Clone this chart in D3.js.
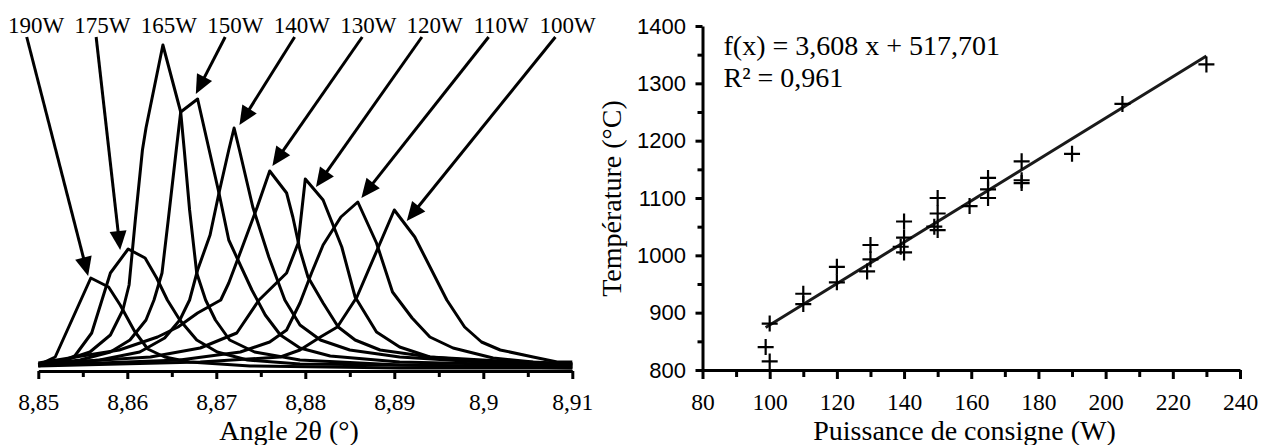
<!DOCTYPE html>
<html><head><meta charset="utf-8">
<script src="https://cdn.jsdelivr.net/npm/d3@7"></script>
<style>
body{margin:0;background:#fff;}
svg text{font-family:"Liberation Serif","Times New Roman",serif;fill:#000;}
svg text.sans{font-family:"Liberation Sans",Arial,sans-serif;}
</style></head><body>
<svg id="c" width="1261" height="445"></svg>
<script>
// ---------- Left chart data: diffraction peaks (2θ in degrees, intensity in arbitrary counts) ----------
const powerLabels = ["190W","175W","165W","150W","140W","130W","120W","110W","100W"];

const angle190 = [8.85,8.8519,8.8559,8.8579,8.8592,8.8608,8.8623,8.8642,8.8670,8.8738,8.8906,8.91];
const count190 = [5,13,92,83,65,39,21,13,8,4,2,2];

const angle175 = [8.85,8.8524,8.8541,8.8560,8.8581,8.8601,8.8620,8.8633,8.8645,8.8659,8.8678,8.8701,8.8735,8.8794,8.91];
const count175 = [4,8,14,37,97,121,112,92,70,50,30,18,10,6,3];

const angle165 = [8.85,8.8524,8.8558,8.8581,8.8595,8.8602,8.8609,8.8617,8.8621,8.8640,8.8660,8.8664,8.8670,8.8678,8.8688,8.8699,8.8715,8.8743,8.8794,8.8906,8.91];
const count165 = [5,8,18,35,60,85,150,220,242,325,258,220,160,97,70,50,30,18,10,5,2];

const angle150 = [8.85,8.8547,8.8581,8.8603,8.8621,8.8630,8.8639,8.8646,8.8655,8.8660,8.8679,8.8692,8.8703,8.8714,8.8728,8.8740,8.8755,8.8772,8.8794,8.8828,8.8906,8.91];
const count150 = [5,10,18,30,50,70,97,150,220,258,271,220,177,130,103,80,55,35,22,14,8,4];

const angle140 = [8.85,8.8569,8.8614,8.8642,8.8659,8.8670,8.8679,8.8693,8.8703,8.8714,8.8720,8.8726,8.8741,8.8759,8.8777,8.8794,8.8817,8.8850,8.8906,8.8996,8.91];
const count140 = [5,10,18,32,50,70,100,135,177,220,242,220,163,113,70,45,30,20,13,8,5];

const angle130 = [8.85,8.8591,8.8634,8.8657,8.8679,8.8705,8.8714,8.8728,8.8746,8.8760,8.8779,8.8786,8.8794,8.8803,8.8820,8.8837,8.8856,8.8884,8.8940,8.9019,8.91];
const count130 = [7,20,33,43,57,70,87,120,163,199,177,153,120,93,67,43,30,20,13,9,6];

const angle120 = [8.85,8.8626,8.8682,8.8723,8.8748,8.8779,8.8792,8.8800,8.8820,8.8841,8.8856,8.8880,8.8906,8.8940,8.8996,8.91];
const count120 = [6,13,22,37,70,97,127,191,170,123,73,38,23,13,9,6];

const angle110 = [8.85,8.8569,8.8659,8.8727,8.8760,8.8779,8.8794,8.8807,8.8820,8.8840,8.8859,8.8880,8.8898,8.8920,8.8940,8.8966,8.9011,8.9056,8.91];
const count110 = [5,7,10,18,28,40,67,97,125,153,168,127,78,52,33,22,12,8,6];

const angle100 = [8.85,8.8682,8.8772,8.8794,8.8817,8.8836,8.8858,8.8900,8.8923,8.8959,8.8979,8.8998,8.9019,8.9056,8.9083,8.91];
const count100 = [4,8,13,20,33,43,73,160,133,70,43,28,20,13,8,8];

// arrows (label -> peak), in data units; 165W has no arrow
const arrowTailAngle = [8.8487,8.8565,null,8.8710,8.8788,8.8864,8.8931,8.9006,8.9081];
const arrowTailCount = [333,333,null,333,333,333,333,333,333];
const arrowTipAngle  = [8.8556,8.8592,null,8.8677,8.8726,8.8763,8.8812,8.8863,8.8914];
const arrowTipCount  = [94,120,null,276,245,204,183,172,149];

const angleTicks = [8.85,8.86,8.87,8.88,8.89,8.9,8.91];
const angleMinorTicks = [8.855,8.865,8.875,8.885,8.895,8.905];

// ---------- Right chart data ----------
const powerW = [98.8,100,100,110,110,120,120,130,130,129,140,140,139,140,150,150,149,150,159.5,165,165,165,175,175,175,190,205,230];
const temperatureC = [840,815,881,933,915,980,953,1018,993,972,1059,1031,1015,1005,1100,1073,1050,1044,1086,1135,1115,1100,1164,1131,1126,1177,1264,1333];
const fitSlope = 3.608, fitIntercept = 517.701;
const fitText = ["f(x) = 3,608 x + 517,701", "R² = 0,961"];
const powerTicks = [80,100,120,140,160,180,200,220,240];
const powerMinorTicks = [90,110,130,150,170,190,210,230];
const tempTicks = [800,900,1000,1100,1200,1300,1400];
const tempMinorTicks = [850,950,1050,1150,1250,1350];

const curves = [
  [angle190,count190],[angle175,count175],[angle165,count165],[angle150,count150],
  [angle140,count140],[angle130,count130],[angle120,count120],[angle110,count110],[angle100,count100]
];

const svg = d3.select("#c");
const comma = d => String(+(+d).toFixed(3)).replace(".", ",");

// ================= LEFT =================
const xL = d3.scaleLinear([8.85, 8.91], [38.3, 572.3]);
const yL = d3.scaleLinear([0, 330], [370, 40]);
const gL = svg.append("g");
const lineL = d3.line().x(d => xL(d[0])).y(d => yL(d[1]));

curves.forEach(([a, c]) => {
  gL.append("path").attr("d", lineL(d3.zip(a, c)))
    .attr("fill", "none").attr("stroke", "#000").attr("stroke-width", 3)
    .attr("stroke-linejoin", "round");
});

const labelX = d3.scalePoint(powerLabels, [36, 567.6]);
gL.selectAll("text.lab").data(powerLabels).join("text").attr("class", "lab")
  .attr("x", d => labelX(d)).attr("y", 32.7).attr("text-anchor", "middle")
  .attr("font-size", 23).text(d => d);

powerLabels.forEach((lab, i) => {
  if (arrowTipAngle[i] == null) return;
  const x0 = xL(arrowTailAngle[i]), y0 = yL(arrowTailCount[i]);
  const x1 = xL(arrowTipAngle[i]), y1 = yL(arrowTipCount[i]);
  const dx = x1 - x0, dy = y1 - y0, len = Math.hypot(dx, dy);
  const ux = dx / len, uy = dy / len, nx = -uy, ny = ux;
  const L = 19, W = 8.5;
  const bx = x1 - L * ux, by = y1 - L * uy;
  gL.append("line").attr("x1", x0).attr("y1", y0).attr("x2", bx + 2 * ux).attr("y2", by + 2 * uy)
    .attr("stroke", "#000").attr("stroke-width", 3);
  gL.append("path").attr("d", `M${x1},${y1}L${bx + W * nx},${by + W * ny}L${bx - W * nx},${by - W * ny}Z`)
    .attr("fill", "#000");
});

const axL = gL.append("g").attr("transform", "translate(0,371)")
  .call(d3.axisBottom(xL).tickValues(angleTicks).tickSize(8).tickSizeOuter(0).tickPadding(14).tickFormat(comma));
const axLm = gL.append("g").attr("transform", "translate(0,371)")
  .call(d3.axisBottom(xL).tickValues(angleMinorTicks).tickSize(6).tickSizeOuter(0).tickFormat(""));
axLm.select(".domain").remove();
[axL, axLm].forEach(a => {
  a.attr("font-family", null);
  a.select(".domain").attr("stroke-width", 3).attr("stroke", "#000");
  a.selectAll(".tick line").attr("stroke-width", 3).attr("stroke", "#000");
  a.selectAll("text").attr("font-size", 23.5).attr("fill", "#000");
});
gL.append("text").attr("x", 289).attr("y", 440).attr("text-anchor", "middle")
  .attr("font-size", 28).text("Angle 2θ (°)");

// ================= RIGHT =================
const xR = d3.scaleLinear([80, 240], [702.5, 1240]);
const yR = d3.scaleLinear([800, 1400], [370, 26]);
const gR = svg.append("g");

const axX = gR.append("g").attr("transform", "translate(0,370)")
  .call(d3.axisBottom(xR).tickValues(powerTicks).tickSize(9).tickSizeOuter(0).tickPadding(14).tickFormat(d3.format("d")));
const axXm = gR.append("g").attr("transform", "translate(0,370)")
  .call(d3.axisBottom(xR).tickValues(powerMinorTicks).tickSize(7).tickSizeOuter(0).tickFormat(""));
axXm.select(".domain").remove();
const axY = gR.append("g").attr("transform", "translate(702.5,0)")
  .call(d3.axisLeft(yR).tickValues(tempTicks).tickSize(7).tickSizeOuter(0).tickPadding(9.5).tickFormat(d3.format("d")));
const axYm = gR.append("g").attr("transform", "translate(702.5,0)")
  .call(d3.axisLeft(yR).tickValues(tempMinorTicks).tickSize(5).tickSizeOuter(0).tickFormat(""));
axYm.select(".domain").remove();
[axX, axXm, axY, axYm].forEach(a => {
  a.attr("font-family", null);
  a.select(".domain").attr("stroke-width", 3).attr("stroke", "#000");
  a.selectAll(".tick line").attr("stroke-width", 3).attr("stroke", "#000");
  a.selectAll("text").attr("font-size", 23.5).attr("fill", "#000");
});
axY.selectAll("text").attr("class", "sans").attr("font-size", 22);

const xExt = d3.extent(powerW);
gR.append("line")
  .attr("x1", xR(xExt[0])).attr("y1", yR(fitSlope * xExt[0] + fitIntercept))
  .attr("x2", xR(xExt[1])).attr("y2", yR(fitSlope * xExt[1] + fitIntercept))
  .attr("stroke", "#1a1a1a").attr("stroke-width", 3);

gR.selectAll("path.pt").data(d3.zip(powerW, temperatureC)).join("path").attr("class", "pt")
  .attr("transform", d => `translate(${xR(d[0])},${yR(d[1])})`)
  .attr("d", "M-8,0H8M0,-8V8").attr("stroke", "#000").attr("stroke-width", 2.2).attr("fill", "none");

gR.selectAll("text.eq").data(fitText).join("text").attr("class", "eq")
  .attr("x", 723.5).attr("y", (d, i) => 55 + i * 32).attr("font-size", 28).text(d => d);

gR.append("text").attr("x", 964.5).attr("y", 440).attr("text-anchor", "middle")
  .attr("font-size", 28).text("Puissance de consigne (W)");
gR.append("text").attr("transform", "translate(621,198.5) rotate(-90)").attr("text-anchor", "middle")
  .attr("font-size", 28).text("Température (°C)");
</script>
</body></html>
